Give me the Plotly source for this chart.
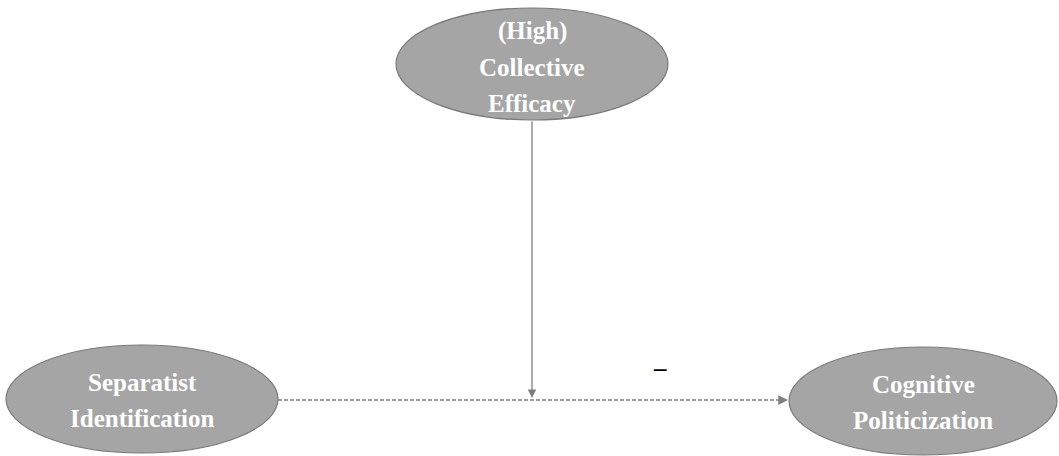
import plotly.graph_objects as go

# Diagram content
node_names = ["top", "left", "right"]
node_lines = {
    "top": ["(High)", "Collective", "Efficacy"],
    "left": ["Separatist", "Identification"],
    "right": ["Cognitive", "Politicization"],
}
path_sign = ["–"]

W, H = 1059, 456
# layout geometry (pixels)
centers = {"top": (532, 64), "left": (142, 399), "right": (923, 401)}
radii = {"top": (136, 56), "left": (136, 54), "right": (134, 54)}
text_centers = {"top": 67, "left": 400, "right": 402}
line_gap = 36

fill = "#a5a5a5"
edge = "#7a7a7a"
line_col = "#7f7f7f"

fig = go.Figure()
fig.add_trace(go.Scatter(x=[0, W], y=[0, H], mode="markers", marker=dict(opacity=0), hoverinfo="skip", showlegend=False))

shapes = []
annotations = []
for n in node_names:
    cx, cy = centers[n]
    rx, ry = radii[n]
    shapes.append(dict(type="circle", xref="x", yref="y", x0=cx - rx, x1=cx + rx, y0=cy - ry, y1=cy + ry,
                       fillcolor=fill, line=dict(color=edge, width=1.2), layer="below"))
    lines = node_lines[n]
    k = len(lines)
    for i, t in enumerate(lines):
        y = text_centers[n] + (i - (k - 1) / 2) * line_gap
        annotations.append(dict(x=cx, y=y, xref="x", yref="y", text="<b>" + t + "</b>", showarrow=False,
                                font=dict(family="Liberation Serif", size=25, color="white")))

# dashed horizontal path left -> right
lx = centers["left"][0] + radii["left"][0]
rx0 = centers["right"][0] - radii["right"][0]
py = 400
shapes.append(dict(type="line", xref="x", yref="y", x0=lx, x1=rx0 - 6, y0=py, y1=py,
                   line=dict(color=line_col, width=1.5, dash="4px,2px")))
annotations.append(dict(x=rx0 - 1, y=py, ax=rx0 - 8, ay=py, xref="x", yref="y", axref="x", ayref="y",
                        showarrow=True, arrowhead=2, arrowsize=1.3, arrowwidth=1.5, arrowcolor=line_col, text=""))

# vertical moderator path
vx = centers["top"][0]
vtop = centers["top"][1] + radii["top"][1]
annotations.append(dict(x=vx, y=py - 2, ax=vx, ay=vtop, xref="x", yref="y", axref="x", ayref="y",
                        showarrow=True, arrowhead=2, arrowsize=1.3, arrowwidth=1.3, arrowcolor=line_col, text=""))

annotations.append(dict(x=660, y=367, xref="x", yref="y", text="<b>" + path_sign[0] + "</b>", showarrow=False,
                        font=dict(family="Liberation Serif", size=25, color="black")))

fig.update_layout(
    width=W, height=H, margin=dict(l=0, r=0, t=0, b=0),
    paper_bgcolor="white", plot_bgcolor="white",
    xaxis=dict(range=[0, W], visible=False, fixedrange=True),
    yaxis=dict(range=[H, 0], visible=False, fixedrange=True),
    shapes=shapes, annotations=annotations, showlegend=False,
)
fig.write_html("out.html", config={"displayModeBar": False, "staticPlot": True},
               post_script="document.body.style.margin='0';document.body.style.overflow='hidden';")
